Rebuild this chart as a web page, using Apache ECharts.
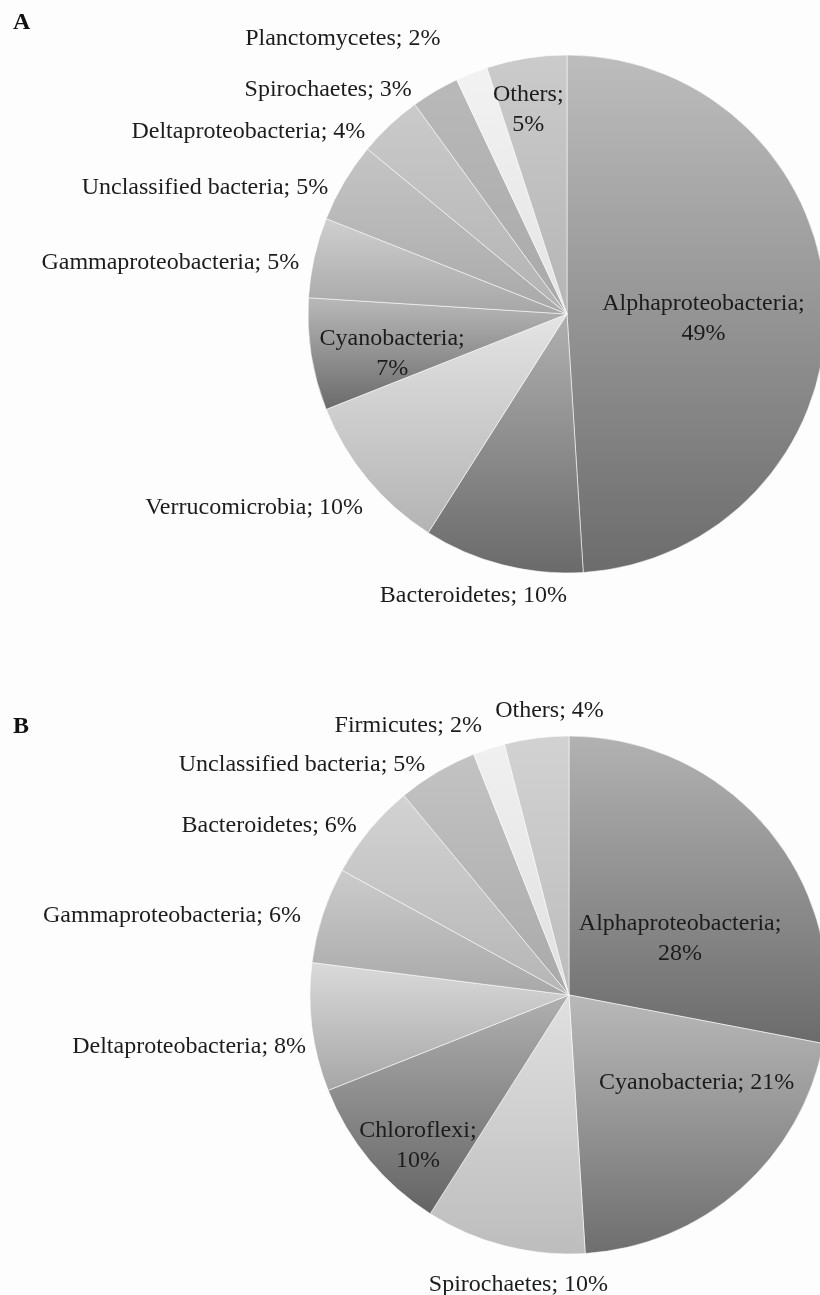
<!DOCTYPE html>
<html>
<head>
<meta charset="utf-8">
<script src="https://cdn.jsdelivr.net/npm/echarts@6/dist/echarts.min.js"></script>
<style>
  html, body { margin: 0; padding: 0; background: #fdfdfd; }
  #chart { width: 820px; height: 1295px; }
</style>
</head>
<body>
<div id="chart"></div>
<script>
// panel A
var namesA = ['Alphaproteobacteria', 'Bacteroidetes', 'Verrucomicrobia', 'Cyanobacteria', 'Gammaproteobacteria',
  'Unclassified bacteria', 'Deltaproteobacteria', 'Spirochaetes', 'Planctomycetes', 'Others']
var valuesA = [49, 10, 10, 7, 5, 5, 4, 3, 2, 5]

// panel B
var namesB = ['Alphaproteobacteria', 'Cyanobacteria', 'Spirochaetes', 'Chloroflexi', 'Deltaproteobacteria',
  'Gammaproteobacteria', 'Bacteroidetes', 'Unclassified bacteria', 'Firmicutes', 'Others']
var valuesB = [28, 21, 10, 10, 8, 6, 6, 5, 2, 4]

// slice shading: top colour, bottom colour
var shadesA = [
  ['#bdbdbd', '#6c6c6c'], ['#b0b0b0', '#6a6a6a'], ['#e4e4e4', '#b3b3b3'], ['#b9b9b9', '#6a6a6a'],
  ['#cfcfcf', '#a6a6a6'], ['#c5c5c5', '#a9a9a9'], ['#cacaca', '#b3b3b3'], ['#b9b9b9', '#a9a9a9'],
  ['#f2f2f2', '#e4e4e4'], ['#cbcbcb', '#b5b5b5']
]
var shadesB = [
  ['#b2b2b2', '#6b6b6b'], ['#b9b9b9', '#6e6e6e'], ['#e0e0e0', '#bdbdbd'], ['#b0b0b0', '#646464'],
  ['#dadada', '#a6a6a6'], ['#cccccc', '#a8a8a8'], ['#d3d3d3', '#b5b5b5'], ['#c3c3c3', '#a9a9a9'],
  ['#f0f0f0', '#e0e0e0'], ['#d2d2d2', '#bcbcbc']
]
// label placement: 'inside' / 'outside', and whether the percent goes on a second line
var labelPosA = ['inside', 'outside', 'outside', 'inside', 'outside', 'outside', 'outside', 'outside', 'outside', 'inside']
var labelWrapA = [true, false, false, true, false, false, false, false, false, true]
var labelPosB = ['inside', 'inside', 'outside', 'inside', 'outside', 'outside', 'outside', 'outside', 'outside', 'outside']
var labelWrapB = [true, false, false, true, false, false, false, false, false, false]
// hand placement of labels, like the original (pixel shift from the default spot)
var nudgeA = [[4, 9], [71, 25], [1, 25], [-44, 19], [-9, 7], [-10, 9], [-8, 0], [3, -10], [-24, -29], [-18, -73]]
var nudgeB = [[9, 28], [40, -12], [110, 33], [-49, 66], [0, 18], [-16, 3], [-6, -2], [32, -31], [44, -38], [73, -21]]

var fontFamily = '"Liberation Serif", "Times New Roman", serif'

function buildData(names, values, shades, pos, wrap) {
  return names.map(function(n, i) {
    return {
      name: n,
      value: values[i],
      itemStyle: {
        color: new echarts.graphic.LinearGradient(0, 0, 0, 1, [
          { offset: 0, color: shades[i][0] },
          { offset: 1, color: shades[i][1] }
        ])
      },
      label: {
        position: pos[i],
        formatter: function(p) {
          return p.name + ';' + (wrap[i] ? '\n' : ' ') + Math.round(p.percent) + '%'
        }
      }
    }
  })
}

function pieSeries(center, data, nudge) {
  return {
    type: 'pie',
    center: center,
    radius: 259,
    startAngle: 90,
    clockwise: true,
    percentPrecision: 0,
    avoidLabelOverlap: true,
    data: data,
    itemStyle: {
      borderColor: 'rgba(255,255,255,0.55)',
      borderWidth: 1
    },
    label: {
      color: '#1c1c1c',
      fontFamily: fontFamily,
      fontSize: 24,
      lineHeight: 30,
      alignTo: 'none'
    },
    labelLine: { show: false, length: 6, length2: 0 },
    labelLayout: function(p) {
      var d = nudge[p.dataIndex]
      return { dx: d[0], dy: d[1] }
    },
    emphasis: { disabled: true }
  }
}

var chart = echarts.init(document.getElementById('chart'))
var option = {
  backgroundColor: '#fdfdfd',
  animation: false,
  title: [
    { text: 'A', left: 8, top: 6, textStyle: { fontFamily: fontFamily, fontSize: 24, fontWeight: 'bold', color: '#111' } },
    { text: 'B', left: 8, top: 710, textStyle: { fontFamily: fontFamily, fontSize: 24, fontWeight: 'bold', color: '#111' } }
  ],
  series: [
    pieSeries([567, 314], buildData(namesA, valuesA, shadesA, labelPosA, labelWrapA), nudgeA),
    pieSeries([569, 995], buildData(namesB, valuesB, shadesB, labelPosB, labelWrapB), nudgeB)
  ]
}
chart.setOption(option)
</script>
</body>
</html>
